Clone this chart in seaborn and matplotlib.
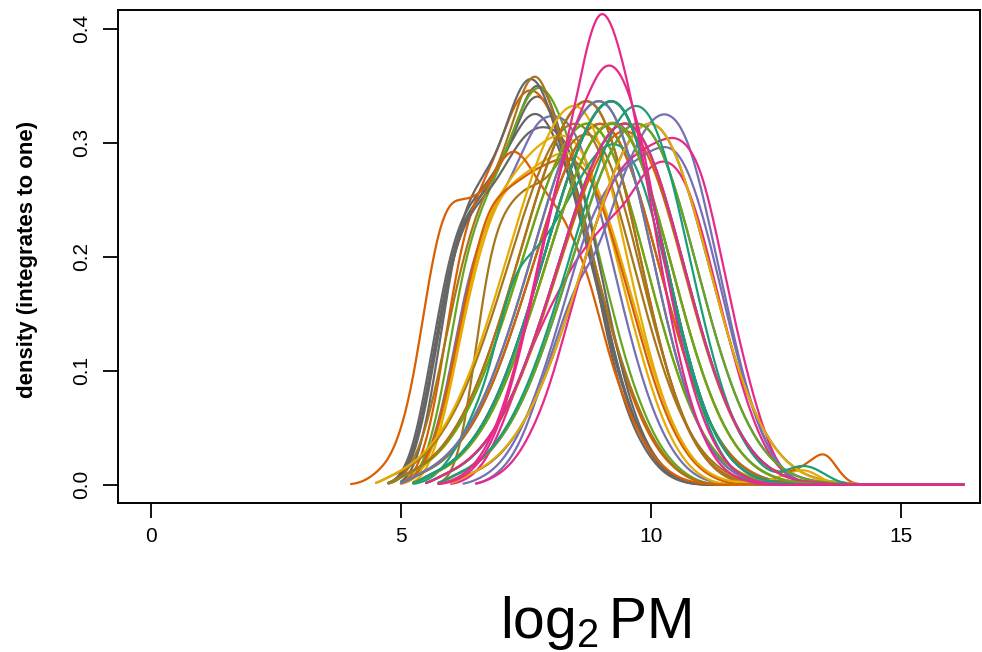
import numpy as np
import pandas as pd
import matplotlib
matplotlib.use("Agg")
import matplotlib.pyplot as plt
import seaborn as sns

# ---------------- data: density curves ----------------
# every curve: first x of its grid, then density values every 0.25 (log2 PM)
GRID_STEP = 0.25
X_END = 16.25          # every density grid ends here (flat zero tail)
BANDWIDTH = 0.18       # smoothing used to redraw each read curve

gray_1 = [0, .005, .025, .075, .14, .20, .232, .245, .26, .28, .305, .34, .355, .335, .295, .26, .21, .155, .103, .065, .04, .022, .01, .004, .001, 0]
gray_2 = [0, .004, .02, .065, .13, .19, .228, .243, .257, .275, .30, .33, .34, .325, .29, .26, .215, .165, .115, .075, .047, .027, .014, .006, .002, 0]
gray_3 = [0, .006, .03, .085, .15, .205, .235, .25, .262, .28, .30, .32, .325, .31, .28, .25, .21, .165, .115, .075, .046, .026, .013, .005, .002, 0]
gray_4 = [0, .004, .022, .07, .135, .19, .222, .238, .25, .265, .285, .30, .306, .305, .298, .272, .232, .182, .128, .083, .05, .028, .014, .006, .002, 0]
gray_5 = [0, .01, .045, .11, .18, .225, .245, .26, .28, .315, .338, .335, .305, .27, .232, .19, .15, .105, .07, .042, .024, .011, .004, .001, 0]
orange_1 = [0, .002, .01, .02, .045, .09, .165, .228, .252, .249, .252, .262, .285, .298, .285, .265, .25, .235, .21, .185, .14, .10, .07, .045, .027, .015, .007, .003, .001, 0]
orange_2 = [0, .006, .03, .08, .15, .205, .235, .255, .28, .31, .325, .322, .305, .275, .24, .2, .16, .12, .085, .058, .037, .022, .012, .005, .002, 0]
brown_1 = [0, .004, .02, .05, .10, .16, .21, .25, .275, .30, .335, .375, .385, .35, .31, .27, .225, .18, .138, .10, .07, .045, .027, .014, .006, .002, 0]
green_1 = [0, .004, .02, .06, .12, .18, .215, .24, .262, .29, .318, .33, .32, .295, .265, .225, .18, .14, .10, .07, .045, .027, .015, .007, .002, 0]
purple_1 = [0, .004, .018, .05, .10, .16, .20, .225, .245, .265, .29, .312, .314, .313, .30, .27, .23, .185, .14, .10, .067, .042, .024, .012, .005, .002, 0]
yellow_1 = [0, .003, .015, .045, .09, .145, .195, .23, .25, .265, .28, .29, .298, .30, .295, .275, .245, .205, .16, .12, .083, .053, .031, .016, .007, .002, 0]
yellow_2 = [0, .01, .04, .09, .15, .20, .24, .265, .277, .285, .293, .30, .305, .303, .29, .265, .23, .19, .15, .11, .075, .048, .028, .015, .007, .002, 0]
orange_3 = [0, .005, .02, .05, .10, .16, .21, .25, .262, .27, .278, .285, .29, .295, .292, .28, .255, .22, .18, .14, .10, .068, .043, .025, .013, .006, .002, 0]
brown_2 = [0, .005, .04, .12, .20, .235, .25, .26, .263, .27, .29, .305, .31, .30, .275, .24, .195, .15, .11, .075, .047, .027, .014, .006, .002, 0]

teal_1 = [0, .007, .012, .019, .029, .043, .061, .085, .114, .147, .183, .221, .258, .291, .318, .334, .340, .329, .300, .257, .206, .156, .111, .073, .046, .027, .015, .008, .004, .002, .001, 0]
teal_2 = [0, .007, .012, .018, .028, .042, .059, .082, .110, .143, .178, .215, .251, .283, .308, .324, .330, .320, .291, .249, .200, .151, .107, .071, .045, .026, .015, .008, .004, .002, .001, 0]
teal_3 = [0, .007, .012, .018, .028, .042, .059, .082, .110, .143, .178, .215, .251, .283, .308, .324, .330, .322, .300, .267, .226, .183, .141, .104, .073, .049, .031, .019, .011, .006, .003, .002, .001, 0]
teal_4 = [0, .007, .011, .018, .027, .040, .058, .080, .107, .138, .172, .208, .243, .274, .299, .315, .320, .310, .282, .242, .194, .147, .104, .069, .043, .026, .014, .008, .013, .017, .015, .008, .002, 0]
teal_5 = [0, .007, .011, .017, .026, .039, .056, .077, .104, .134, .167, .202, .236, .266, .290, .305, .310, .303, .282, .251, .212, .172, .132, .097, .068, .046, .029, .018, .010, .006, .003, .002, .001, 0]
teal_6 = [0, .003, .010, .025, .045, .070, .100, .150, .190, .205, .215, .230, .250, .270, .290, .305, .310, .305, .285, .250, .205, .155, .110, .070, .040, .020, .008, .002, 0]
green_2 = [0, .007, .012, .018, .028, .042, .059, .082, .110, .143, .178, .215, .251, .283, .308, .324, .330, .322, .300, .267, .226, .183, .141, .104, .073, .049, .031, .019, .011, .006, .003, .002, .001, 0]
green_3 = [0, .007, .011, .018, .027, .040, .058, .080, .107, .138, .172, .208, .243, .274, .299, .315, .320, .310, .282, .242, .194, .147, .104, .069, .043, .026, .014, .007, .004, .002, .001, 0]
green_4 = [0, .007, .011, .018, .027, .040, .058, .080, .107, .138, .172, .208, .243, .274, .299, .315, .320, .313, .291, .259, .219, .177, .137, .100, .070, .047, .030, .018, .011, .006, .003, .002, .001, 0]
green_5 = [0, .006, .011, .017, .026, .038, .054, .075, .100, .130, .162, .195, .228, .257, .280, .295, .300, .293, .273, .243, .206, .166, .128, .094, .066, .044, .028, .017, .010, .005, .003, .002, .001, 0]
green_6 = [0, .006, .011, .017, .026, .038, .054, .075, .100, .130, .162, .195, .228, .257, .280, .295, .300, .293, .273, .243, .206, .166, .128, .094, .066, .044, .028, .017, .010, .005, .003, .002, .001, 0]
yellow_3 = [0, .007, .011, .018, .027, .040, .058, .080, .107, .138, .172, .208, .243, .274, .299, .315, .320, .313, .291, .259, .219, .177, .137, .100, .070, .047, .030, .018, .011, .006, .003, .002, .001, 0]
yellow_4 = [0, .007, .011, .018, .027, .040, .058, .080, .107, .138, .172, .208, .243, .274, .299, .315, .320, .313, .291, .259, .219, .177, .137, .100, .070, .047, .030, .018, .011, .006, .003, .002, .001, 0]
yellow_5 = [0, .006, .011, .017, .026, .038, .054, .075, .100, .130, .162, .195, .228, .257, .280, .295, .300, .293, .273, .243, .206, .166, .128, .094, .066, .044, .028, .017, .010, .005, .003, .002, .001, 0]
yellow_6 = [0, .006, .011, .017, .026, .038, .054, .075, .100, .130, .162, .195, .228, .257, .280, .295, .300, .291, .265, .227, .182, .137, .098, .065, .041, .024, .013, .007, .003, .002, .002, .002, .005, .009, .013, .010, .002, 0]
orange_4 = [0, .007, .012, .018, .028, .042, .059, .082, .110, .143, .178, .215, .251, .283, .308, .324, .330, .320, .291, .249, .200, .151, .107, .071, .045, .026, .015, .008, .004, .002, .001, 0]
orange_5 = [0, .006, .011, .017, .026, .038, .054, .075, .100, .130, .162, .195, .228, .257, .280, .295, .300, .293, .273, .243, .206, .166, .128, .094, .066, .044, .028, .017, .010, .005, .003, .002, .001, 0]
orange_6 = [0, .006, .011, .017, .026, .038, .054, .075, .100, .130, .162, .195, .228, .257, .280, .295, .300, .293, .273, .243, .206, .166, .128, .094, .066, .044, .028, .017, .010, .010, .014, .022, .032, .010, 0]
purple_2 = [0, .007, .012, .019, .029, .043, .061, .085, .114, .147, .183, .221, .258, .291, .318, .334, .340, .329, .300, .257, .206, .156, .111, .073, .046, .027, .015, .008, .004, .002, .001, 0]
purple_3 = [0, .007, .011, .017, .026, .039, .056, .077, .104, .134, .167, .202, .236, .266, .290, .305, .310, .300, .273, .234, .188, .142, .101, .067, .042, .025, .014, .007, .003, .002, .001, 0]
purple_4 = [0, .007, .011, .017, .026, .039, .056, .077, .104, .134, .167, .202, .236, .266, .290, .305, .310, .303, .282, .251, .212, .172, .132, .097, .068, .046, .029, .018, .010, .006, .003, .002, .001, 0]
purple_5 = [0, .004, .012, .025, .048, .08, .113, .145, .175, .19, .21, .245, .275, .30, .318, .325, .32, .30, .26, .21, .16, .11, .07, .04, .02, .008, .002, 0]
purple_6 = [0, .004, .01, .02, .037, .06, .09, .125, .165, .205, .24, .265, .282, .293, .30, .308, .313, .31, .29, .255, .21, .16, .113, .073, .042, .02, .008, .002, 0]
magenta_1 = [0, .002, .006, .015, .03, .055, .09, .135, .185, .235, .28, .328, .385, .415, .393, .352, .30, .24, .175, .12, .075, .044, .023, .011, .005, .002, 0]
magenta_2 = [0, .003, .008, .018, .035, .06, .095, .14, .19, .24, .28, .31, .335, .36, .363, .345, .31, .255, .195, .14, .095, .06, .035, .019, .009, .004, .001, 0]
magenta_3 = [0, .004, .01, .02, .037, .06, .09, .13, .17, .21, .245, .27, .285, .293, .30, .305, .308, .30, .28, .235, .18, .13, .085, .048, .02, .006, .001, 0]
magenta_4 = [0, .003, .01, .025, .05, .08, .11, .135, .16, .18, .20, .215, .228, .24, .25, .27, .285, .29, .285, .265, .23, .185, .14, .098, .062, .035, .017, .007, .002, 0]
magenta_5 = [0, .007, .011, .018, .027, .040, .058, .080, .107, .138, .172, .208, .243, .274, .299, .315, .320, .310, .282, .242, .194, .147, .104, .069, .043, .026, .014, .007, .004, .002, .001, 0]
magenta_6 = [0, .006, .011, .017, .026, .038, .054, .075, .100, .130, .162, .195, .228, .257, .280, .295, .300, .293, .273, .243, .206, .166, .128, .094, .066, .044, .028, .017, .010, .005, .003, .002, .001, 0]
gray_6 = [0, .007, .012, .019, .029, .043, .061, .085, .114, .147, .183, .221, .258, .291, .318, .336, .340, .336, .309, .275, .233, .188, .145, .107, .075, .050, .032, .019, .011, .006, .003, .002, .001, 0]
gray_7 = [0, .007, .011, .017, .026, .039, .056, .077, .104, .134, .167, .202, .236, .266, .290, .305, .310, .303, .282, .251, .212, .172, .132, .097, .068, .046, .029, .018, .010, .006, .003, .002, .001, 0]
brown_3 = [0, .007, .011, .018, .027, .040, .058, .080, .107, .138, .172, .208, .243, .274, .299, .315, .320, .310, .282, .242, .194, .147, .104, .069, .043, .026, .014, .007, .004, .002, .001, 0]
brown_4 = [0, .007, .011, .017, .026, .039, .056, .077, .104, .134, .167, .202, .236, .266, .290, .305, .310, .303, .282, .251, .212, .172, .132, .097, .068, .046, .029, .018, .010, .006, .003, .002, .001, 0]

# (sample, first grid x, values) in drawing order
samples = [
    ("gray_1", 4.75, gray_1), ("gray_2", 4.75, gray_2),
    ("orange_2", 5.0, orange_2), ("gray_3", 4.75, gray_3), ("green_1", 5.0, green_1),
    ("gray_4", 4.75, gray_4), ("purple_1", 5.0, purple_1), ("gray_5", 5.0, gray_5),
    ("brown_1", 4.75, brown_1),
    ("yellow_1", 5.0, yellow_1), ("orange_1", 4.0, orange_1), ("yellow_2", 5.25, yellow_2),
    ("orange_3", 5.0, orange_3), ("brown_2", 5.75, brown_2),
    ("brown_4", 4.5, brown_4), ("gray_7", 6.0, gray_7), ("orange_4", 4.75, orange_4),
    ("purple_3", 5.25, purple_3), ("yellow_3", 4.75, yellow_3), ("green_6", 4.75, green_6),
    ("teal_3", 5.0, teal_3), ("magenta_5", 5.25, magenta_5), ("brown_3", 4.75, brown_3),
    ("orange_5", 5.0, orange_5), ("purple_4", 5.75, purple_4), ("yellow_6", 4.5, yellow_6),
    ("green_3", 5.0, green_3), ("teal_6", 5.25, teal_6), ("magenta_4", 6.0, magenta_4),
    ("gray_6", 5.25, gray_6), ("orange_6", 5.5, orange_6), ("purple_5", 6.5, purple_5),
    ("yellow_4", 5.25, yellow_4), ("green_4", 5.5, green_4), ("teal_5", 5.5, teal_5),
    ("magenta_3", 6.5, magenta_3), ("purple_6", 6.25, purple_6), ("yellow_5", 6.0, yellow_5),
    ("green_5", 5.75, green_5), ("teal_4", 5.75, teal_4), ("magenta_6", 5.5, magenta_6),
    ("purple_2", 5.0, purple_2), ("green_2", 5.25, green_2), ("teal_2", 5.25, teal_2),
    ("teal_1", 5.25, teal_1), ("magenta_2", 5.75, magenta_2), ("magenta_1", 5.75, magenta_1),
]

# Dark2 colours per group
group_colors = {"teal": "#1B9E77", "orange": "#D95F02", "purple": "#7570B3",
                "magenta": "#E7298A", "green": "#66A61E", "yellow": "#E6AB02",
                "brown": "#A6761D", "gray": "#666666"}

# ---------------- style ----------------
sns.set_style("ticks")
plt.rcParams["font.family"] = ["Liberation Sans", "DejaVu Sans"]
plt.rcParams["mathtext.fontset"] = "custom"
plt.rcParams["mathtext.rm"] = "Liberation Sans"
plt.rcParams["mathtext.it"] = "Liberation Sans:italic"
plt.rcParams["mathtext.bf"] = "Liberation Sans:bold"
for k in ["text.color", "axes.labelcolor", "xtick.color", "ytick.color", "axes.edgecolor"]:
    plt.rcParams[k] = "black"

W, H = 982, 652
fig = plt.figure(figsize=(W / 100, H / 100), dpi=100)
ax = fig.add_axes([118 / W, 1 - 503 / H, (980 - 118) / W, (503 - 10) / H])

# ---------------- curves: seaborn density of each read curve ----------------
for name, x0, vals in samples:
    xs = np.append(x0 + GRID_STEP * np.arange(len(vals)), X_END)
    ws = np.append(np.asarray(vals, dtype=float), 0.0)
    sub = pd.DataFrame({"x": xs, "w": ws})
    sd = float(np.sqrt(np.cov(xs, aweights=ws)))
    sns.kdeplot(data=sub, x="x", weights="w", bw_method=BANDWIDTH / sd, cut=0,
                gridsize=700, color=group_colors[name.split("_")[0]],
                linewidth=1.6, ax=ax)

ax.set_xlim(-0.66, 16.58)
ax.set_ylim(-0.0161, 0.4163)
ax.set_xticks([0, 5, 10, 15])
ax.set_xticklabels(["0", "5", "10", "15"])
ax.set_yticks([0.0, 0.1, 0.2, 0.3, 0.4])
ax.set_yticklabels(["0.0", "0.1", "0.2", "0.3", "0.4"])
ax.tick_params(direction="out", length=10.5, width=1.3, labelsize=15, color="black")
ax.tick_params(axis="x", pad=7)
ax.tick_params(axis="y", labelrotation=90, pad=8.5)
for lab in ax.get_yticklabels():
    lab.set_va("center")
for s in ax.spines.values():
    s.set_visible(True)
    s.set_linewidth(1.4)
    s.set_color("black")

ax.set_xlabel(r"$\mathrm{log}_{2}\,\mathrm{PM}$", fontsize=41)
ax.xaxis.set_label_coords((595 - 118) / 862, (503 - 594) / 493)
ax.set_ylabel("density (integrates to one)", fontsize=16, fontweight="bold", va="center")
ax.yaxis.set_label_coords((28 - 118) / 862, (503 - 259) / 493)

fig.savefig("out.png", dpi=100)
